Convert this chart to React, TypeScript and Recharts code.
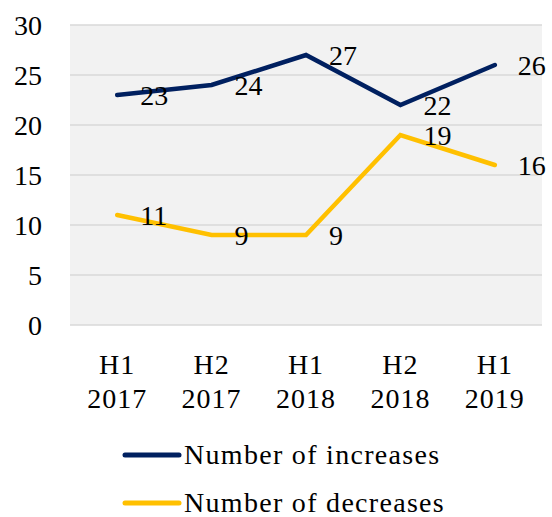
import React from 'react';
import { LineChart, Line, XAxis, YAxis, CartesianGrid, Legend, LabelList } from 'recharts';

const periods = ['H1 2017', 'H2 2017', 'H1 2018', 'H2 2018', 'H1 2019'];
const increases = [23, 24, 27, 22, 26];
const decreases = [11, 9, 9, 19, 16];
const yTicks = [0, 5, 10, 15, 20, 25, 30];

const NAVY = '#002060';
const GOLD = '#FFC000';
const FONT = '"Liberation Serif", serif';

const data = periods.map((p, i) => ({ period: p, increases: increases[i], decreases: decreases[i] }));

const PeriodTick = (props: any) => {
    const { x, y, payload } = props;
    const [half, year] = String(payload.value).split(' ');
    return (
        <text x={x} y={y} textAnchor="middle" fontFamily={FONT} fontSize={28} fill="#000" letterSpacing={1}>
            <tspan x={x} dy={47}>{half}</tspan>
            <tspan x={x} dy={34}>{year}</tspan>
        </text>
    );
};

const LegendRows = () => (
    <div style={{ fontFamily: FONT, fontSize: 28, color: '#000', letterSpacing: 1.3 }}>
        {[
            { name: 'Number of increases', color: NAVY },
            { name: 'Number of decreases', color: GOLD },
        ].map((item, i) => (
            <div
                key={item.name}
                style={{ display: 'flex', alignItems: 'center', height: 26, lineHeight: '26px', marginTop: i === 0 ? 0 : 22 }}
            >
                <svg width={60} height={10} style={{ marginRight: 2 }}>
                    <line x1={3} y1={5} x2={57} y2={5} stroke={item.color} strokeWidth={5} strokeLinecap="round" />
                </svg>
                <span>{item.name}</span>
            </div>
        ))}
    </div>
);

const App: React.FC = () => {
    return (
        <div style={{ position: 'absolute', left: 0, top: 0, width: 552, height: 517, background: '#fff' }}>
            <LineChart width={552} height={517} data={data} margin={{ top: 25, right: 10, left: 0, bottom: 102 }}>
                <CartesianGrid vertical={false} stroke="#d9d9d9" strokeWidth={1.5} fill="#f2f2f2" />
                <XAxis
                    dataKey="period"
                    scale="band"
                    axisLine={false}
                    tickLine={false}
                    tickSize={0}
                    height={90}
                    interval={0}
                    tick={<PeriodTick />}
                />
                <YAxis
                    domain={[0, 30]}
                    ticks={yTicks}
                    axisLine={false}
                    tickLine={false}
                    tickSize={0}
                    tickMargin={28}
                    width={70}
                    tick={{ fontFamily: FONT, fontSize: 28, fill: '#000' }}
                />
                <Line
                    type="linear"
                    dataKey="increases"
                    stroke={NAVY}
                    strokeWidth={4.5}
                    strokeLinecap="round"
                    dot={false}
                    isAnimationActive={false}
                >
                    <LabelList dataKey="increases" position="right" offset={23} fill="#000" fontFamily={FONT} fontSize={28} />
                </Line>
                <Line
                    type="linear"
                    dataKey="decreases"
                    stroke={GOLD}
                    strokeWidth={4.5}
                    strokeLinecap="round"
                    dot={false}
                    isAnimationActive={false}
                >
                    <LabelList dataKey="decreases" position="right" offset={23} fill="#000" fontFamily={FONT} fontSize={28} />
                </Line>
                <Legend
                    layout="horizontal"
                    verticalAlign="middle"
                    align="center"
                    content={<LegendRows />}
                    wrapperStyle={{ top: 442, left: 122, width: 'auto' }}
                />
            </LineChart>
        </div>
    );
};

export default App;
